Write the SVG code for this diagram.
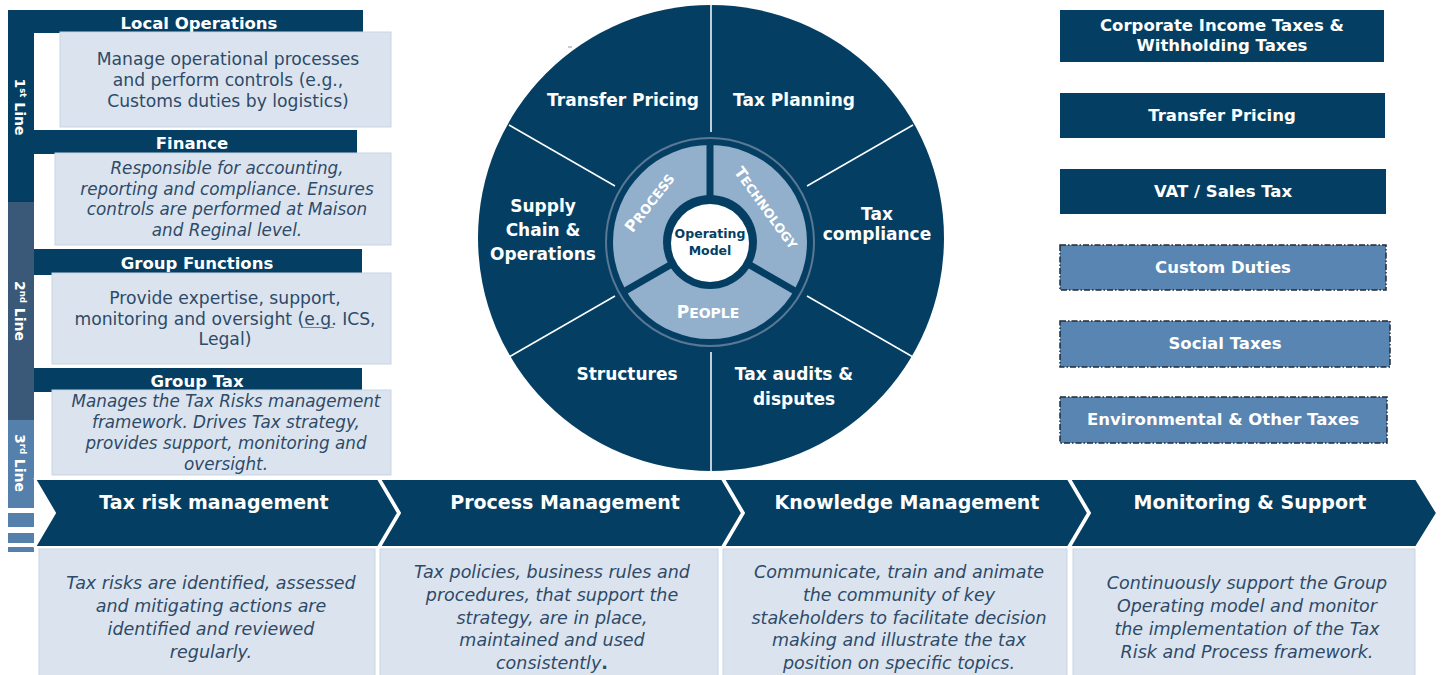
<svg xmlns="http://www.w3.org/2000/svg" width="1442" height="675" viewBox="0 0 1442 675">
<defs>
<style>
.navy{fill:#043f63}
.desc{fill:#dbe4ee;stroke:#c8d5e3;stroke-width:1}
.hdr{font-family:"DejaVu Sans",sans-serif;font-weight:bold;font-size:16.5px;fill:#ffffff;text-anchor:middle}
.dt{font-family:"DejaVu Sans",sans-serif;font-size:17.2px;fill:#2e4a68;text-anchor:middle}
.it{font-style:italic;font-size:16.8px}
.vl{font-family:"DejaVu Sans",sans-serif;font-weight:bold;font-size:14px;fill:#ffffff;text-anchor:middle}
.sec{font-family:"DejaVu Sans",sans-serif;font-weight:bold;font-size:17px;fill:#ffffff;text-anchor:middle}
.sc{font-family:"DejaVu Sans",sans-serif;font-weight:bold;fill:#ffffff;text-anchor:middle}
.chev{fill:#043f63;stroke:#ffffff;stroke-width:2}
.cht{font-family:"DejaVu Sans",sans-serif;font-weight:bold;font-size:19px;fill:#ffffff;text-anchor:middle}
.bt{font-family:"DejaVu Sans",sans-serif;font-style:italic;font-size:17.5px;fill:#2e4a68;text-anchor:middle}
.rb{fill:#043f63}
.rd{fill:#5885b2;stroke:#1f2a36;stroke-width:1.5;stroke-dasharray:6 2 1.5 2}
.divl{stroke:#ffffff;stroke-width:1.5}
</style>
</defs>
<rect width="1442" height="675" fill="#ffffff"/>

<!-- Left lines of defense bar -->
<g id="lines-bar">
<rect x="8" y="10" width="26" height="192" class="navy"/>
<rect x="8" y="202" width="26" height="218" fill="#3a5878"/>
<rect x="8" y="420" width="26" height="88" fill="#5580ab"/>
<rect x="8" y="513" width="26" height="14" fill="#5580ab"/>
<rect x="8" y="533" width="26" height="10" fill="#5580ab"/>
<rect x="8" y="547" width="26" height="5" fill="#5580ab"/>
<text class="vl" transform="translate(20,107) rotate(90)" y="5">1<tspan font-size="8.5" dy="-5">st</tspan><tspan dy="5"> Line</tspan></text>
<text class="vl" transform="translate(20,311) rotate(90)" y="5">2<tspan font-size="8.5" dy="-5">nd</tspan><tspan dy="5"> Line</tspan></text>
<text class="vl" transform="translate(20,463) rotate(90)" y="5">3<tspan font-size="8.5" dy="-5">rd</tspan><tspan dy="5"> Line</tspan></text>
</g>

<g id="local-operations">
<rect x="8" y="10" width="355" height="23" class="navy"/>
<text class="hdr" x="199" y="29">Local Operations</text>
<rect x="60" y="32" width="331" height="95" class="desc"/>
<text class="dt" x="228" y="65">Manage operational processes</text>
<text class="dt" x="228" y="86">and perform controls (e.g.,</text>
<text class="dt" x="228" y="107">Customs duties by logistics)</text>
</g>

<g id="finance">
<rect x="34" y="130" width="323" height="24" class="navy"/>
<text class="hdr" x="192" y="149">Finance</text>
<rect x="55" y="153" width="336" height="92" class="desc"/>
<text class="dt it" x="227" y="174">Responsible for accounting,</text>
<text class="dt it" x="227" y="194.5">reporting and compliance. Ensures</text>
<text class="dt it" x="227" y="215">controls are performed at Maison</text>
<text class="dt it" x="227" y="235.5">and Reginal level.</text>
</g>

<g id="group-functions">
<rect x="34" y="249" width="328" height="26" class="navy"/>
<text class="hdr" x="197" y="269">Group Functions</text>
<rect x="52" y="273" width="339" height="91" class="desc"/>
<text class="dt" x="225" y="304">Provide expertise, support,</text>
<text class="dt" x="225" y="324.5">monitoring and oversight (e.g. ICS,</text>
<text class="dt" x="225" y="345">Legal)</text>
<line x1="301" y1="327.5" x2="334" y2="327.5" stroke="#6f7fc0" stroke-width="1"/>
</g>

<g id="group-tax">
<rect x="34" y="368" width="328" height="24" class="navy"/>
<text class="hdr" x="197" y="387">Group Tax</text>
<rect x="52" y="390" width="339" height="85" class="desc"/>
<text class="dt it" x="226" y="407">Manages the Tax Risks management</text>
<text class="dt it" x="226" y="428">framework. Drives Tax strategy,</text>
<text class="dt it" x="226" y="449">provides support, monitoring and</text>
<text class="dt it" x="226" y="470">oversight.</text>
</g>

<!-- Wheel -->
<g id="wheel">
<circle cx="711" cy="238" r="233" class="navy"/>
<line class="divl" x1="711" y1="132" x2="711" y2="5"/>
<line class="divl" x1="711" y1="352" x2="711" y2="472"/>
<line class="divl" x1="807" y1="186" x2="913" y2="125"/>
<line class="divl" x1="615" y1="186" x2="509" y2="125"/>
<line class="divl" x1="615" y1="296" x2="509" y2="357"/>
<line class="divl" x1="807" y1="296" x2="913" y2="357"/>
<line x1="568" y1="47" x2="572" y2="47" stroke="#8a9aa8" stroke-width="1"/>
<text class="sec" x="623" y="106">Transfer Pricing</text>
<text class="sec" x="794" y="106">Tax Planning</text>
<text class="sec" x="543" y="212" font-size="17.5">Supply</text>
<text class="sec" x="543" y="236" font-size="17.5">Chain &amp;</text>
<text class="sec" x="543" y="260" font-size="17.5">Operations</text>
<text class="sec" x="877" y="220" font-size="16">Tax</text>
<text class="sec" x="877" y="240" font-size="16">compliance</text>
<text class="sec" x="627" y="380">Structures</text>
<text class="sec" x="794" y="380">Tax audits &amp;</text>
<text class="sec" x="794" y="405">disputes</text>
</g>

<g id="operating-model">
<circle cx="710" cy="242" r="108" class="navy"/>
<circle cx="710" cy="242" r="104" fill="none" stroke="#5a7795" stroke-width="2"/>
<circle cx="710" cy="242" r="97" fill="#92afcb"/>
<line x1="710" y1="242" x2="710" y2="144" stroke="#043f63" stroke-width="7"/>
<line x1="710" y1="242" x2="625" y2="291" stroke="#043f63" stroke-width="7"/>
<line x1="710" y1="242" x2="795" y2="291" stroke="#043f63" stroke-width="7"/>
<circle cx="710" cy="242" r="47" class="navy"/>
<circle cx="710" cy="243" r="39" fill="#ffffff"/>
<text class="sc" transform="translate(650,203) rotate(-52)" y="5" font-size="16">P<tspan font-size="13">ROCESS</tspan></text>
<text class="sc" transform="translate(766,208) rotate(54)" y="5" font-size="15.5">T<tspan font-size="12.5">ECHNOLOGY</tspan></text>
<text class="sc" x="708" y="318" font-size="17">P<tspan font-size="14">EOPLE</tspan></text>
<text x="710" y="238" font-family="DejaVu Sans, sans-serif" font-weight="bold" font-size="12.5" fill="#043f63" text-anchor="middle">Operating</text>
<text x="710" y="255" font-family="DejaVu Sans, sans-serif" font-weight="bold" font-size="12.5" fill="#043f63" text-anchor="middle">Model</text>
</g>

<!-- Right tax types -->
<g id="cit-wht">
<rect x="1060" y="10" width="324" height="52" class="rb"/>
<text class="hdr" x="1222" y="31">Corporate Income Taxes &amp;</text>
<text class="hdr" x="1222" y="51">Withholding Taxes</text>
</g>
<g id="transfer-pricing">
<rect x="1060" y="93" width="325" height="45" class="rb"/>
<text class="hdr" x="1222" y="121">Transfer Pricing</text>
</g>
<g id="vat">
<rect x="1060" y="169" width="326" height="45" class="rb"/>
<text class="hdr" x="1223" y="197">VAT / Sales Tax</text>
</g>
<g id="custom-duties">
<rect x="1060" y="245" width="326" height="45" class="rd"/>
<text class="hdr" x="1223" y="273">Custom Duties</text>
</g>
<g id="social-taxes">
<rect x="1060" y="321" width="330" height="46" class="rd"/>
<text class="hdr" x="1225" y="349">Social Taxes</text>
</g>
<g id="environmental">
<rect x="1060" y="397" width="327" height="46" class="rd"/>
<text class="hdr" x="1223" y="425">Environmental &amp; Other Taxes</text>
</g>

<!-- Chevrons -->
<g id="tax-risk-management">
<path class="chev" d="M35,479 L378,479 L398,513 L378,547 L35,547 L55,513 Z"/>
<text class="cht" x="214" y="509">Tax risk management</text>
<rect x="39" y="549" width="336" height="130" class="desc"/>
<text class="bt" x="211" y="589">Tax risks are identified, assessed</text>
<text class="bt" x="211" y="612">and mitigating actions are</text>
<text class="bt" x="211" y="635">identified and reviewed</text>
<text class="bt" x="211" y="658">regularly.</text>
</g>
<g id="process-management">
<path class="chev" d="M380,479 L722,479 L742,513 L722,547 L380,547 L400,513 Z"/>
<text class="cht" x="565" y="509">Process Management</text>
<rect x="380" y="549" width="338" height="130" class="desc"/>
<text class="bt" x="552" y="578">Tax policies, business rules and</text>
<text class="bt" x="552" y="601">procedures, that support the</text>
<text class="bt" x="552" y="623.5">strategy, are in place,</text>
<text class="bt" x="552" y="646">maintained and used</text>
<text class="bt" x="552" y="668.5">consistently<tspan font-style="normal" font-weight="bold">.</tspan></text>
</g>
<g id="knowledge-management">
<path class="chev" d="M724,479 L1068,479 L1088,513 L1068,547 L724,547 L744,513 Z"/>
<text class="cht" x="907" y="509">Knowledge Management</text>
<rect x="723" y="549" width="344" height="130" class="desc"/>
<text class="bt" x="899" y="578">Communicate, train and animate</text>
<text class="bt" x="899" y="601">the community of key</text>
<text class="bt" x="899" y="623.5">stakeholders to facilitate decision</text>
<text class="bt" x="899" y="646">making and illustrate the tax</text>
<text class="bt" x="899" y="668.5">position on specific topics.</text>
</g>
<g id="monitoring-support">
<path class="chev" d="M1070,479 L1416,479 L1437,513 L1416,547 L1070,547 L1090,513 Z"/>
<text class="cht" x="1250" y="509">Monitoring &amp; Support</text>
<rect x="1073" y="549" width="342" height="130" class="desc"/>
<text class="bt" x="1247" y="589">Continuously support the Group</text>
<text class="bt" x="1247" y="612">Operating model and monitor</text>
<text class="bt" x="1247" y="635">the implementation of the Tax</text>
<text class="bt" x="1247" y="658">Risk and Process framework.</text>
</g>
<g id="connectors"/>
</svg>
